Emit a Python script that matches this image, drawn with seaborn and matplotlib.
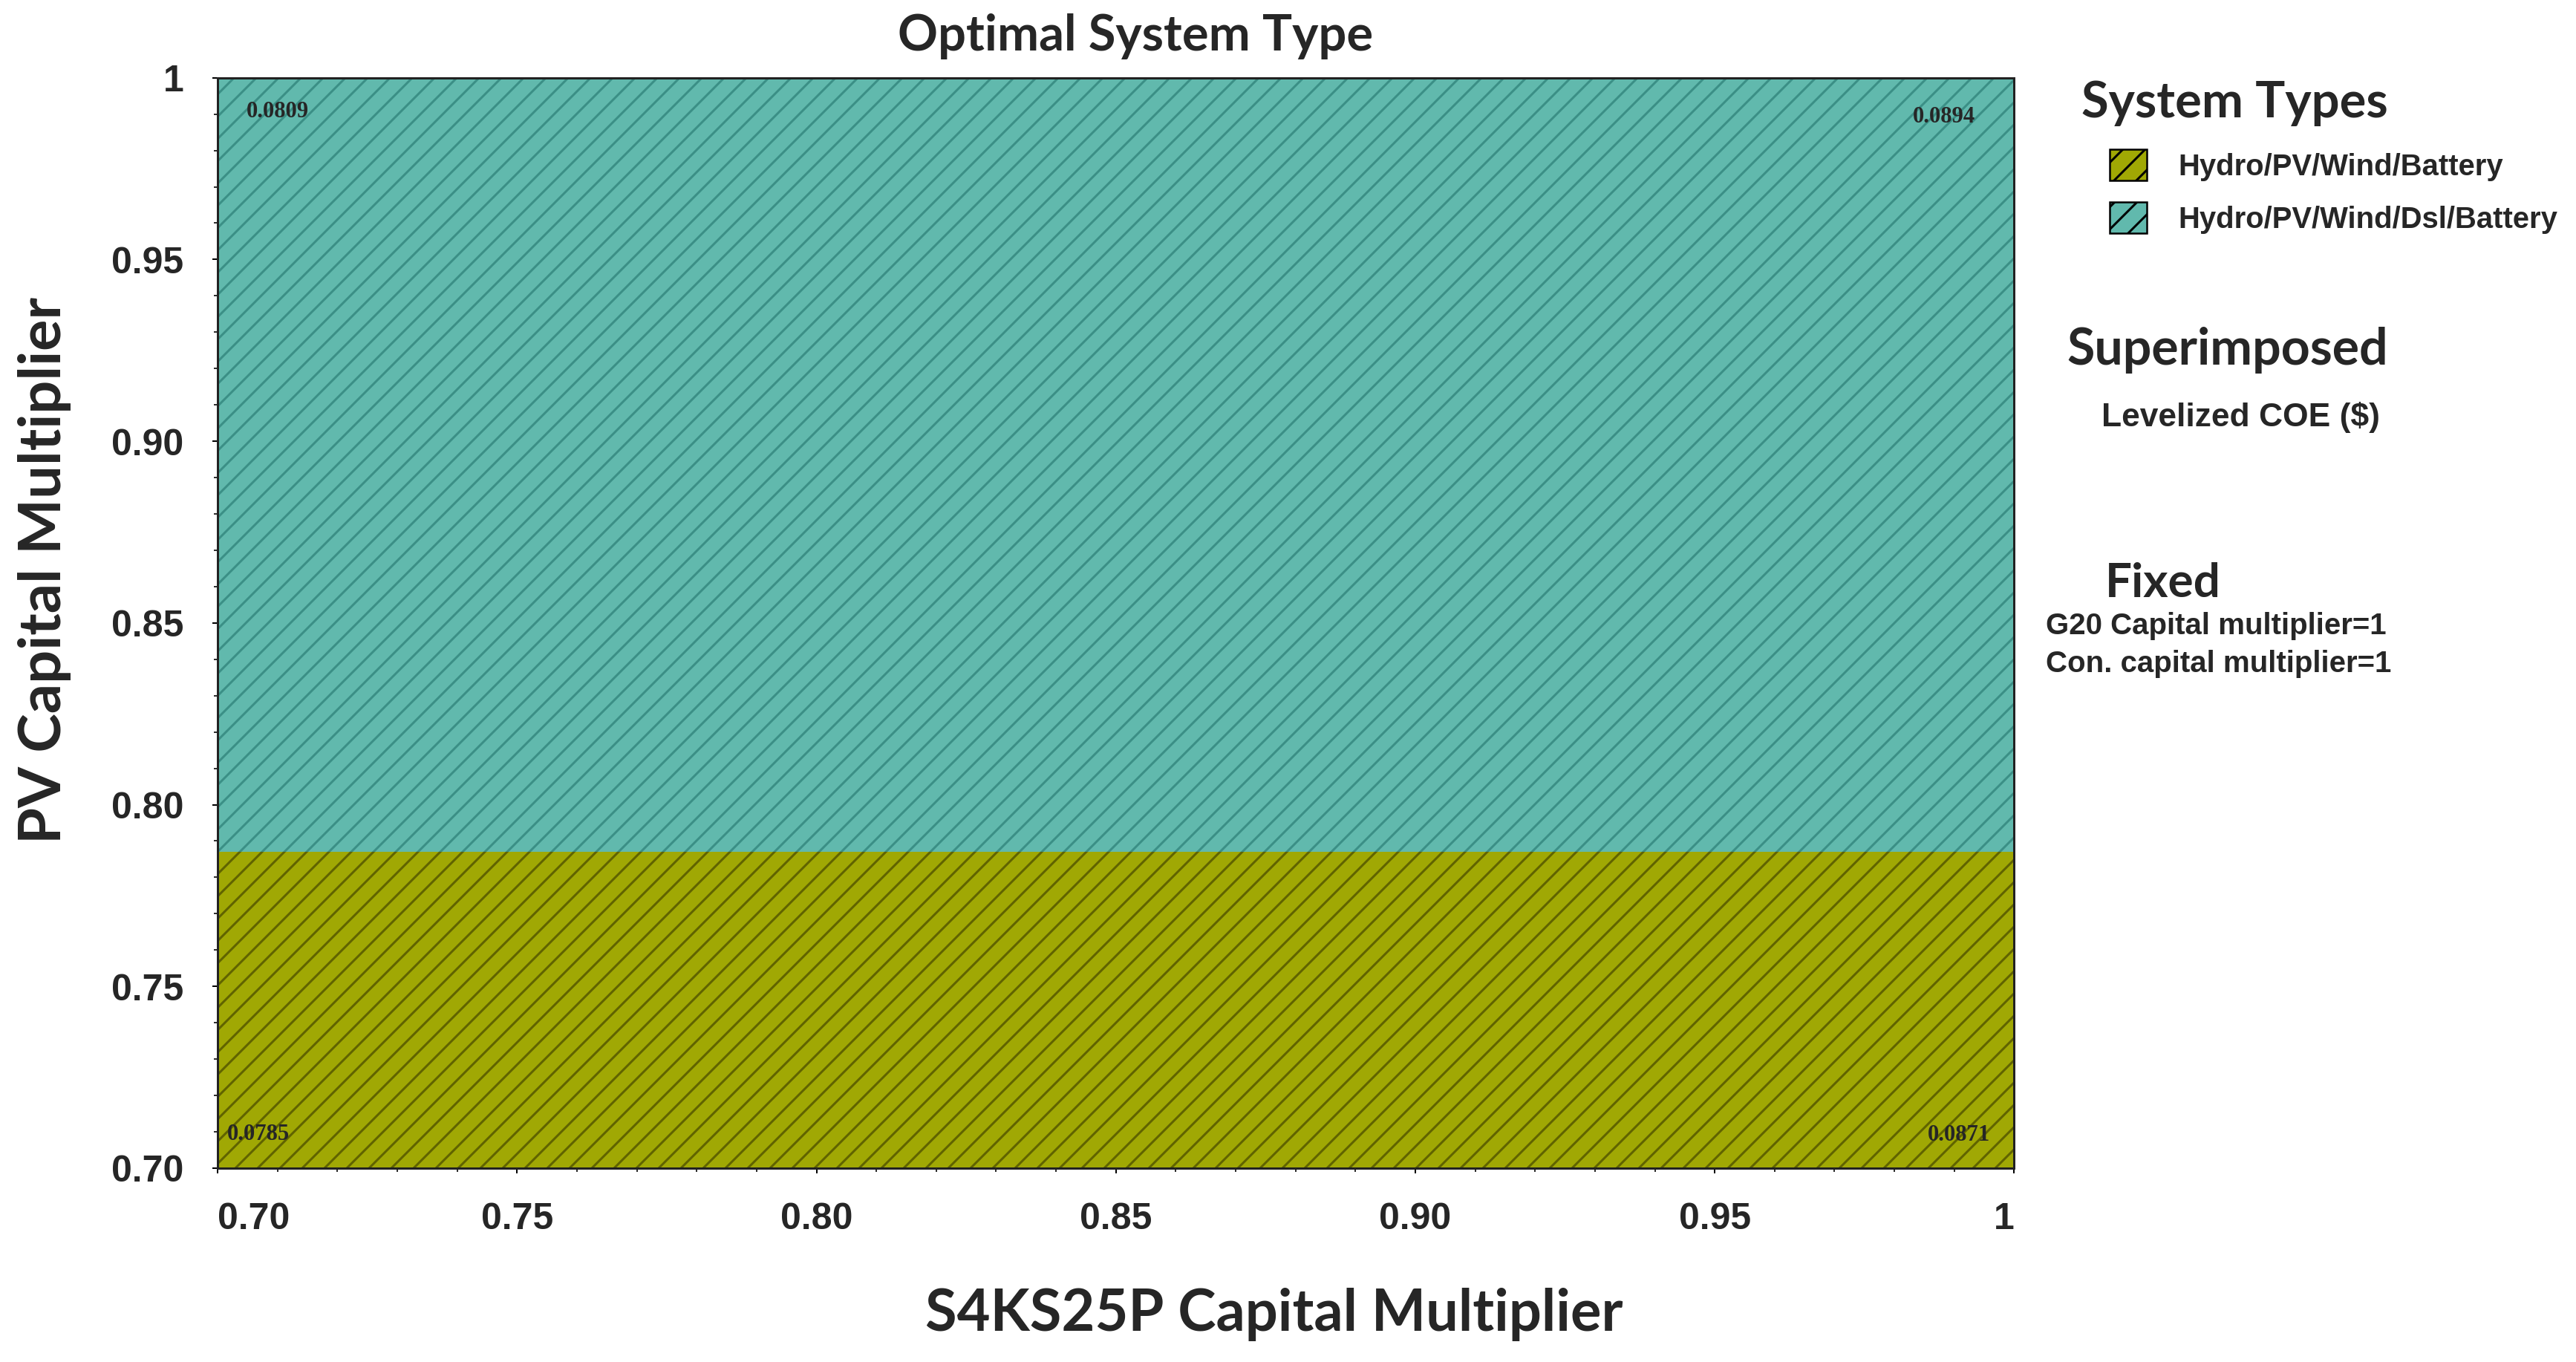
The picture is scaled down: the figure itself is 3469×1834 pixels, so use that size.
import numpy as np
import pandas as pd
import matplotlib
matplotlib.use('Agg')
import matplotlib.pyplot as plt
import seaborn as sns
from matplotlib.patches import Patch
from matplotlib.ticker import MultipleLocator

# --- data ---
system_types = ['Hydro/PV/Wind/Battery', 'Hydro/PV/Wind/Dsl/Battery']
fill_colors = ['#a0a804', '#61b9ad']
hatch_colors = ['#606300', '#3b8f86']
s4ks25p_range = [0.70, 1.00]
pv_band_low = [0.70, 0.787]
pv_band_high = [0.787, 1.00]

# superimposed levelized COE at the corners of the sweep
corner_s4 = [0.70, 1.00, 0.70, 1.00]
corner_pv = [1.00, 1.00, 0.70, 0.70]
corner_coe = ['0.0809', '0.0894', '0.0785', '0.0871']

tick_values = [0.70, 0.75, 0.80, 0.85, 0.90, 0.95, 1.00]
tick_labels = ['0.70', '0.75', '0.80', '0.85', '0.90', '0.95', '1']

bands = pd.DataFrame({'type': system_types, 'low': pv_band_low, 'high': pv_band_high,
                      'color': fill_colors, 'hatch_color': hatch_colors})

# --- style ---
sns.set_theme(style='ticks')
plt.rcParams['font.family'] = ['Liberation Sans', 'DejaVu Sans']
plt.rcParams['hatch.linewidth'] = 2.4

DPI = 90
fig = plt.figure(figsize=(3469.4 / DPI, 1834.4 / DPI), dpi=DPI)
ax = fig.add_axes([0.0845, 0.1423, 0.6973, 0.8004])

for _, row in bands.iterrows():
    ax.fill_between(s4ks25p_range, row['low'], row['high'], facecolor=row['color'],
                    edgecolor=row['hatch_color'], hatch='/', linewidth=0)

offsets = [(39, -45), (-52, -52), (13, 46), (-32, 45)]
for xv, yv, lab, off in zip(corner_s4, corner_pv, corner_coe, offsets):
    ax.annotate(lab, (xv, yv), xytext=off, textcoords='offset pixels',
                ha='left' if off[0] > 0 else 'right', va='center',
                fontsize=24.5, fontweight='bold', family='Liberation Serif')

ax.set_xlim(0.70, 1.00)
ax.set_ylim(0.70, 1.00)
ax.set_xticks(tick_values)
ax.set_xticklabels(tick_labels)
ax.set_yticks(tick_values)
ax.set_yticklabels(tick_labels)
ax.xaxis.set_minor_locator(MultipleLocator(0.01))
ax.yaxis.set_minor_locator(MultipleLocator(0.01))
ax.tick_params(which='major', direction='out', length=5.5, width=1.6, pad=31,
               labelsize=40, color='black')
ax.tick_params(which='minor', direction='out', length=4, width=1.3, color='black')
for t in ax.get_xticklabels() + ax.get_yticklabels():
    t.set_fontweight('bold')
xl = ax.get_xticklabels()
xl[0].set_ha('left')
xl[-1].set_ha('right')

for s in ax.spines.values():
    s.set_linewidth(2.4)
    s.set_color('#222222')
    s.set_visible(True)

# titles and axis labels
heading = dict(family=['Lato', 'DejaVu Sans'], fontweight='bold')
fig.text(0.4408, 0.9733, 'Optimal System Type', ha='center', va='center', fontsize=53.5, **heading)
fig.text(0.0173, 0.5812, 'PV Capital Multiplier', ha='center', va='center', rotation=90,
         fontsize=63.5, **heading)
fig.text(0.4944, 0.0349, 'S4KS25P Capital Multiplier', ha='center', va='center',
         fontsize=62, **heading)

# side panel
fig.text(0.808, 0.9242, 'System Types', ha='left', va='center', fontsize=53.5, **heading)
handles = [Patch(facecolor=c, edgecolor='black', hatch='/', linewidth=2) for c in fill_colors]
fig.legend(handles, system_types, loc='upper left', bbox_to_anchor=(0.819, 0.8904),
           frameon=False, borderpad=0, borderaxespad=0,
           prop=dict(family='Liberation Sans', weight='bold', size=32),
           handlelength=1.24, handleheight=1.24, handletextpad=1.05, labelspacing=0.72)

fig.text(0.8022, 0.7432, 'Superimposed', ha='left', va='center', fontsize=54.5, **heading)
fig.text(0.8158, 0.6936, 'Levelized COE ($)', ha='left', va='center', fontsize=35.5,
         fontweight='bold')
fig.text(0.8170, 0.5720, 'Fixed', ha='left', va='center', fontsize=51, **heading)
fig.text(0.7942, 0.5403, 'G20 Capital multiplier=1', ha='left', va='center', fontsize=32.2,
         fontweight='bold')
fig.text(0.7942, 0.5125, 'Con. capital multiplier=1', ha='left', va='center', fontsize=32.2,
         fontweight='bold')

fig.savefig('out.png', dpi=DPI, facecolor='white')
print("Plot saved to out.png")
